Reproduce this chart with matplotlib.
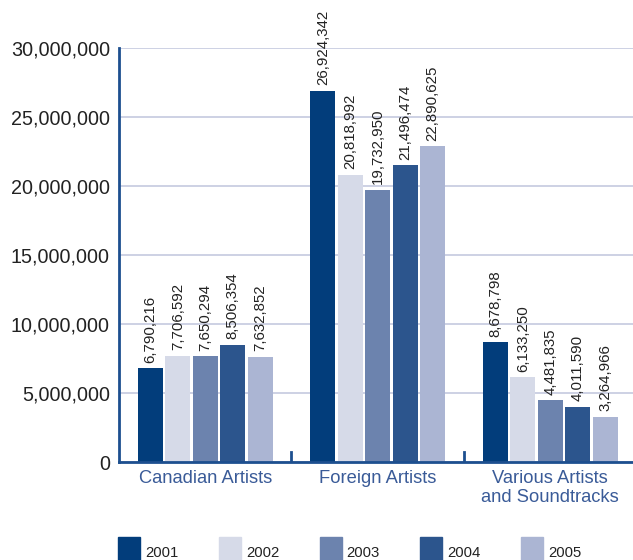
import matplotlib
matplotlib.use("Agg")
import matplotlib.pyplot as plt
from matplotlib.patches import Rectangle
import numpy as np

plt.rcParams['font.family'] = ['Liberation Sans', 'DejaVu Sans']

categories = ["Canadian Artists", "Foreign Artists", "Various Artists\nand Soundtracks"]
years = ["2001", "2002", "2003", "2004", "2005"]
values = {
    "2001": [6790216, 26924342, 8678798],
    "2002": [7706592, 20818992, 6133250],
    "2003": [7650294, 19732950, 4481835],
    "2004": [8506354, 21496474, 4011590],
    "2005": [7632852, 22890625, 3264966],
}
colors = ["#023d7b", "#d6dae8", "#6c83ae", "#2c558d", "#abb5d3"]

blue = "#1d4f8f"
fig = plt.figure(figsize=(6.33, 5.6), dpi=100)
ax = fig.add_axes([0.188, 0.175, 0.812, 0.739])

x = np.arange(len(categories))
step = 0.159
width = 0.145
for i, yr in enumerate(years):
    pos = x + (i - 2) * step
    bars = ax.bar(pos, values[yr], width, color=colors[i], zorder=3)
    for b, v in zip(bars, values[yr]):
        ax.annotate(f"{v:,}", (b.get_x() + b.get_width() / 2, v),
                    xytext=(0, 4), textcoords="offset points",
                    rotation=90, ha="center", va="bottom",
                    fontsize=10.8, color="#222222")

ax.set_xlim(-0.5, 2.48)
ax.set_ylim(0, 30000000)
ax.set_yticks(np.arange(0, 30000001, 5000000))
ax.yaxis.set_major_formatter(matplotlib.ticker.FuncFormatter(lambda v, p: f"{int(v):,}"))
ax.tick_params(axis="y", length=0, pad=6.5, labelsize=14.2, labelcolor="#222222")
ax.set_xticks(x)
ax.set_xticklabels(categories, fontsize=13.2, color="#3a5b98", linespacing=1.2)
ax.tick_params(axis="x", length=0, pad=5.5)

ax.grid(axis="y", color="#c9cee2", linewidth=1.3, zorder=0)
for s in ["top", "right"]:
    ax.spines[s].set_visible(False)
for s in ["left", "bottom"]:
    ax.spines[s].set_color(blue)
    ax.spines[s].set_linewidth(2)
    ax.spines[s].set_zorder(4)

# small dividers between the groups
for d in [0.5, 1.5]:
    ax.axvline(d, ymin=0, ymax=0.025, color=blue, linewidth=2, zorder=4)

# legend row along the bottom
for i, yr in enumerate(years):
    lx = 118 + i * 100.8
    fig.add_artist(Rectangle((lx / 633, 0), 22 / 633, 23 / 560,
                             transform=fig.transFigure, color=colors[i]))
    fig.text((lx + 27) / 633, 0.0, yr, fontsize=10.7, color="#222222",
             ha="left", va="bottom")

fig.savefig("out.png", dpi=100)
